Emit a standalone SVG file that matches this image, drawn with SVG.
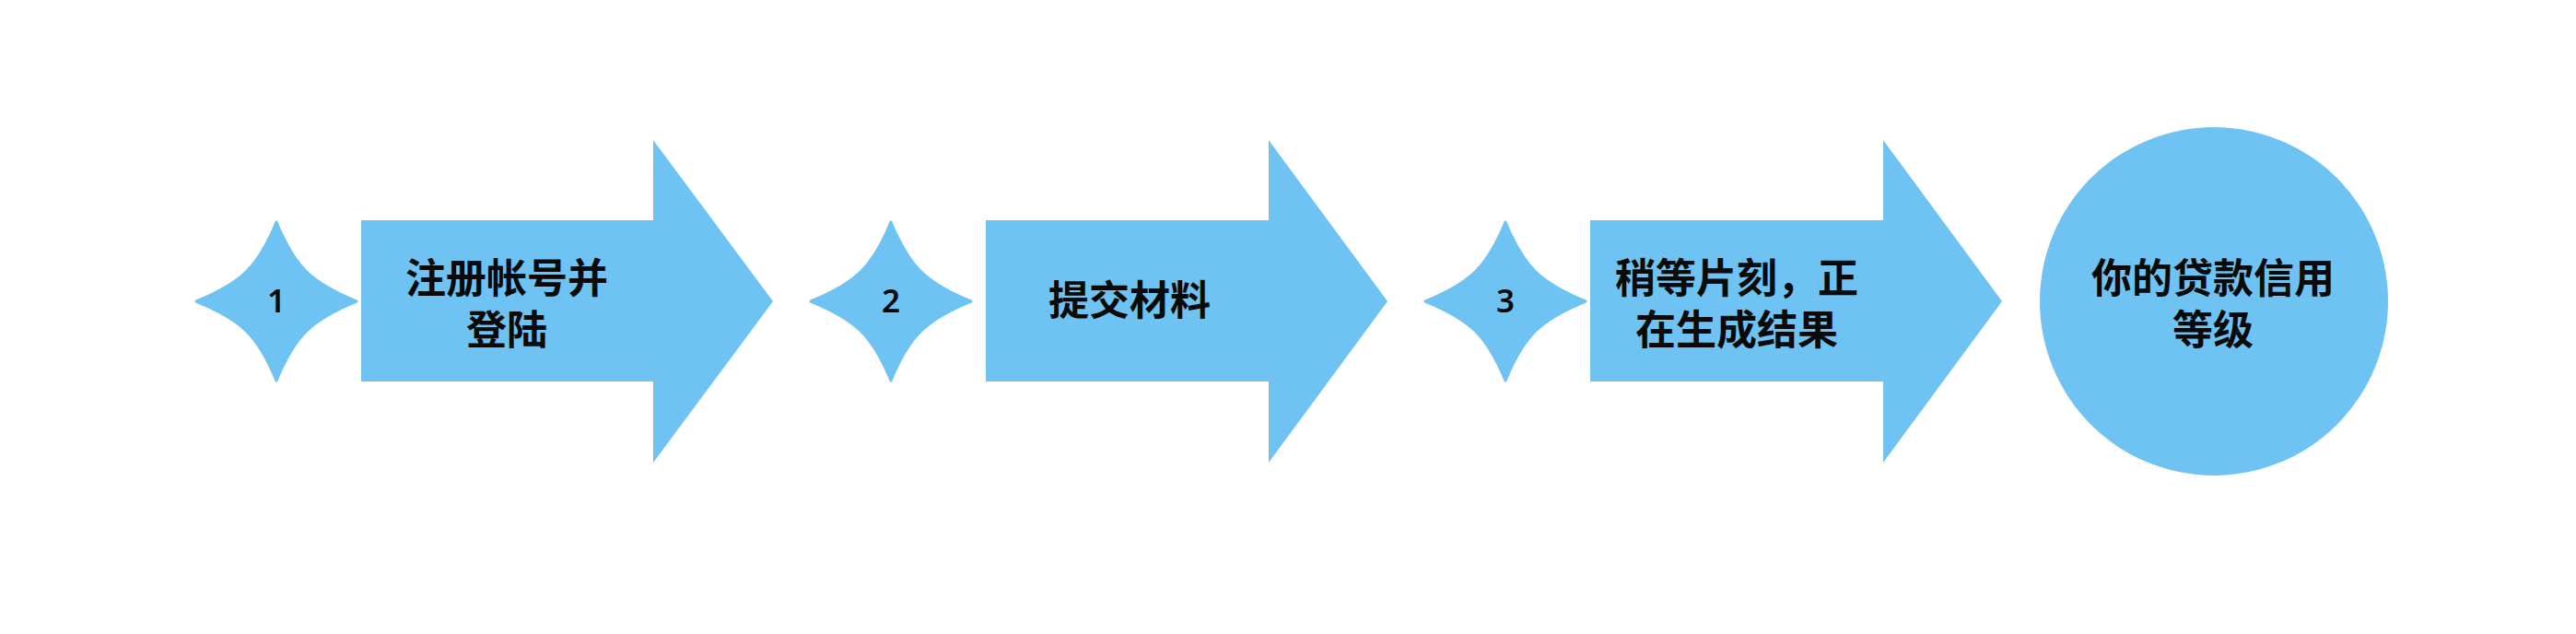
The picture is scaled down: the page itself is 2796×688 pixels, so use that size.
<svg xmlns="http://www.w3.org/2000/svg" width="2796" height="688" viewBox="0 0 2796 688">
<defs>
<style>
.shape{fill:#6FC3F3;}
.star{fill:#6FC3F3;stroke:#6FC3F3;stroke-width:3;stroke-linejoin:round;}
.lbl{font-family:"Liberation Sans","Noto Sans CJK SC",sans-serif;font-size:44px;font-weight:700;fill:#0a0a0a;text-anchor:middle;}
.num{font-family:"Noto Sans","Liberation Sans",sans-serif;font-size:35px;font-weight:600;fill:#0a0a0a;text-anchor:middle;}
</style>
</defs>
<rect width="2796" height="688" fill="#ffffff"/>
<g id="connectors"></g>
<g id="star1">
<path class="star" d="M300 241 C280 290 262 307 213 327 C262 347 280 364 300 413 C320 364 338 347 387 327 C338 307 320 290 300 241 Z"/>
<text class="num" x="300" y="339">1</text>
</g>
<g id="arrow1">
<path class="shape" d="M392 239 H709 V152 L839 327 L709 502 V414 H392 Z"/>
<text class="lbl" x="550" y="318">注册帐号并<tspan x="550" dy="56">登陆</tspan></text>
</g>
<g id="star2">
<path class="star" d="M967 241 C947 290 929 307 880 327 C929 347 947 364 967 413 C987 364 1005 347 1054 327 C1005 307 987 290 967 241 Z"/>
<text class="num" x="967" y="339">2</text>
</g>
<g id="arrow2">
<path class="shape" d="M1070 239 H1377 V152 L1506 327 L1377 502 V414 H1070 Z"/>
<text class="lbl" x="1226" y="342">提交材料</text>
</g>
<g id="star3">
<path class="star" d="M1634 241 C1614 290 1596 307 1547 327 C1596 347 1614 364 1634 413 C1654 364 1672 347 1721 327 C1672 307 1654 290 1634 241 Z"/>
<text class="num" x="1634" y="339">3</text>
</g>
<g id="arrow3">
<path class="shape" d="M1726 239 H2044 V152 L2173 327 L2044 502 V414 H1726 Z"/>
<text class="lbl" x="1885" y="318">稍等片刻，正<tspan x="1885" dy="56">在生成结果</tspan></text>
</g>
<g id="result">
<circle class="shape" cx="2403" cy="327" r="189"/>
<text class="lbl" x="2402" y="318">你的贷款信用<tspan x="2402" dy="56">等级</tspan></text>
</g>
</svg>
